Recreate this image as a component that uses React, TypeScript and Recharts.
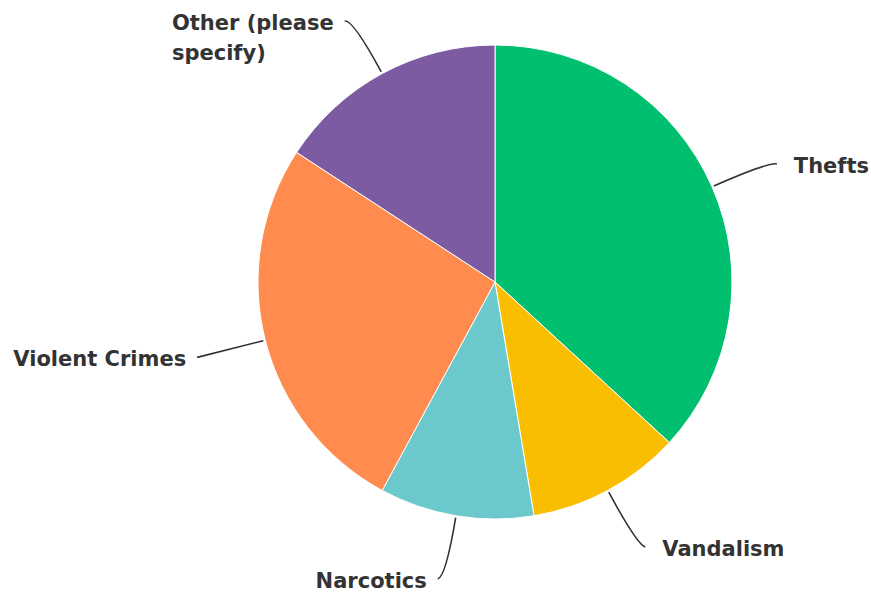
import { PieChart, Pie, Cell } from "recharts";

// crime categories, clockwise from 12 o'clock
const categories = ["Thefts", "Vandalism", "Narcotics", "Violent Crimes", "Other (please specify)"];
const counts = [7, 2, 2, 5, 3];
const colors = ["#00BF6F", "#F9BE00", "#6BC8CD", "#FF8B4F", "#7D5BA3"];
// label text split into lines
const labelLines = [["Thefts"], ["Vandalism"], ["Narcotics"], ["Violent Crimes"], ["Other (please", "specify)"]];

const RADIAN = Math.PI / 180;
const FONT = "bold 21px 'DejaVu Sans'";

let ctx: CanvasRenderingContext2D | null = null;
const measure = (s: string) => {
  if (!ctx) ctx = document.createElement("canvas").getContext("2d");
  if (!ctx) return s.length * 11;
  ctx.font = FONT;
  return ctx.measureText(s).width;
};

const renderLabel = (props: any) => {
  const { cx, cy, midAngle, outerRadius, index } = props;
  const cos = Math.cos(-midAngle * RADIAN);
  const sin = Math.sin(-midAngle * RADIAN);
  const sx = cx + (outerRadius + 2) * cos;
  const sy = cy + (outerRadius + 2) * sin;
  const ex = cx + (outerRadius + 62) * cos;
  const ey = cy + (outerRadius + 62) * sin;
  const right = ex >= cx;
  const hx = ex + (right ? 8 : -8);
  const hy = ey + 2;
  const lines = labelLines[index];
  // text block is left aligned; on the left side it ends at the hook
  const w = Math.max(...lines.map(measure));
  const tx = right ? hx + 17 : hx - 11 - w;
  return (
    <g>
      <path d={`M${sx},${sy} Q${ex},${ey} ${hx},${hy}`} stroke="#333" strokeWidth={1.6} fill="none" />
      <text
        x={tx}
        y={hy + 2}
        textAnchor="start"
        dominantBaseline="central"
        fill="#333"
        fontFamily="DejaVu Sans"
        fontWeight="bold"
        fontSize={21}
      >
        {lines.map((l, i) => (
          <tspan key={i} x={tx} dy={i === 0 ? 0 : 30}>
            {l}
          </tspan>
        ))}
      </text>
    </g>
  );
};

const App = () => {
  const data = categories.map((name, i) => ({ name, value: counts[i] }));

  return (
    <div style={{ position: "absolute", left: 0, top: 0, background: "#fff" }}>
      <PieChart width={871} height={594} margin={{ top: 0, right: 0, bottom: 0, left: 0 }}>
        <Pie
          data={data}
          dataKey="value"
          nameKey="name"
          cx={495}
          cy={282}
          outerRadius={237}
          startAngle={90}
          endAngle={-270}
          stroke="#fff"
          strokeWidth={1}
          label={renderLabel}
          labelLine={false}
          isAnimationActive={false}
        >
          {data.map((d, i) => (
            <Cell key={d.name} fill={colors[i]} />
          ))}
        </Pie>
      </PieChart>
    </div>
  );
};

export default App;
